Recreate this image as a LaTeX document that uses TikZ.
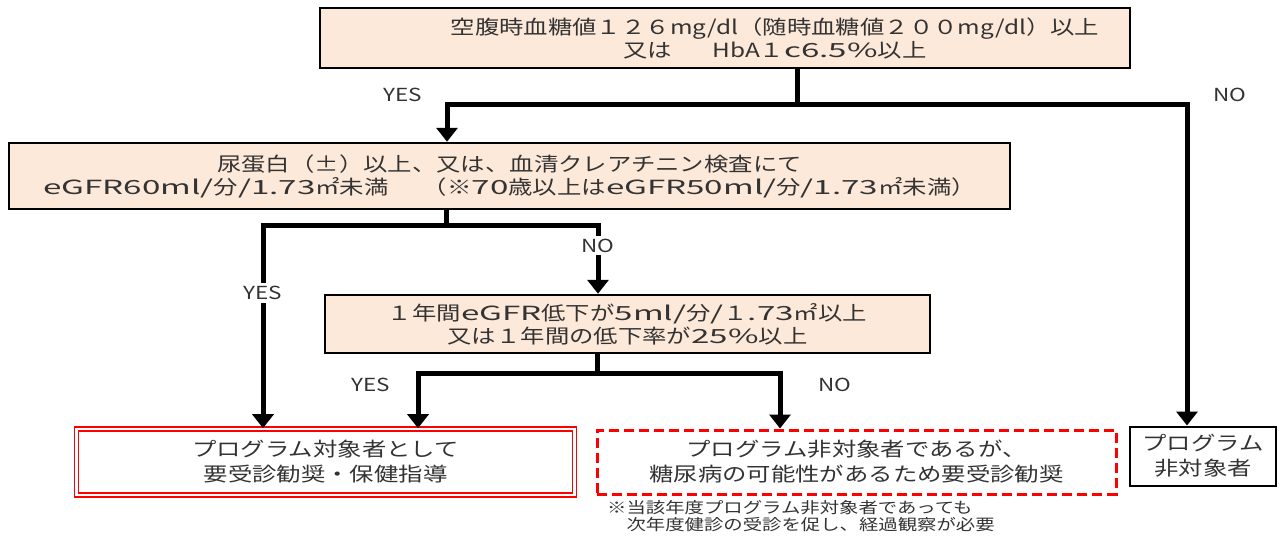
\documentclass[tikz,border=0pt]{standalone}
\usepackage{fontspec}
\setmainfont[FakeStretch=1.25]{Noto Sans CJK JP}
\newfontfamily\widelatin[FakeStretch=1.7]{Noto Sans CJK JP}
\newcommand{\ltn}[1]{{\widelatin #1}}
\usetikzlibrary{arrows.meta, positioning}
\definecolor{peach}{RGB}{253,233,217}
\tikzstyle{block} = [draw, line width=2.5pt, fill=peach, rectangle, align=center, inner sep=0pt, text=black!80, font=\fontsize{19.5}{23}\selectfont]
\tikzstyle{result} = [draw, rectangle, align=center, inner sep=0pt, text=black!80, font=\fontsize{19.5}{25}\selectfont]
\tikzstyle{flow} = [line width=5pt]
\tikzstyle{lbl} = [fill=white, inner sep=3pt, text=black!80, font=\fontsize{18}{20}\selectfont]

\begin{document}
\begin{tikzpicture}[x=1pt, y=-1pt, >={Triangle[width=21pt,length=14pt]}]
    \useasboundingbox (0,0) rectangle (1282,536);
    \node[block, minimum width=810pt, minimum height=60pt] (sugar) at (725,38) {};
    \node[align=center, inner sep=0pt, text=black!80, font=\fontsize{19.5}{23}\selectfont] (sugartext) at (775,38) {空腹時血糖値１２６mg/dl（随時血糖値２００mg/dl）以上\\又は\hspace*{40pt}HbA１\ltn{c6.5\%}以上};
    \node[block, minimum width=1001pt, minimum height=66pt] (protein) at (509.5,176) {尿蛋白（±）以上、又は、血清クレアチニン検査にて\\\ltn{eGFR60ml/}分\ltn{/1.73}㎡未満　\hspace*{10pt}（※\ltn{70}歳以上は\ltn{eGFR50ml/}分\ltn{/1.73}㎡未満）};
    \node[block, minimum width=605pt, minimum height=58pt] (decline) at (627.5,324) {１年間\ltn{eGFR}低下が\ltn{5ml/}分\ltn{/}１\ltn{.73}㎡以上\\又は１年間の低下率が\ltn{25\%}以上};
    \node[result, draw=red, double=white, double distance=2.5pt, line width=1.6pt, minimum width=498pt, minimum height=66pt] (target) at (325.5,462) {プログラム対象者として\\要受診勧奨・保健指導};
    \node[result, draw=red, dashed, dash pattern=on 10pt off 5pt, line width=3pt, minimum width=519pt, minimum height=64pt] (possible) at (856.5,462) {プログラム非対象者であるが、\\糖尿病の可能性があるため要受診勧奨};
    \node[result, line width=2pt, minimum width=146pt, minimum height=59pt] (nontarget) at (1203,456) {プログラム\\非対象者};
    \node[anchor=north west, align=left, inner sep=0pt, text=black!80, font=\fontsize{15.5}{17}\selectfont] (remark) at (607,500) {※当該年度プログラム非対象者であっても\\　次年度健診の受診を促し、経過観察が必要};
    \node[lbl] (yes1) at (403,95) {YES};
    \node[lbl] (no1) at (1230,95) {NO};
    \node[lbl] (yes3) at (371,385) {YES};
    \node[lbl] (no3) at (835,385) {NO};
    \coordinate (j1) at (797,104);
    \coordinate (j2) at (446,225);
    \coordinate (j3) at (597,373);
    \draw[flow] (sugar.south -| j1) -- (j1);
    \draw[flow,->] (j1) -| ([xshift=-62.5pt]protein.north);
    \draw[flow,->] (j1) -| ([xshift=-16pt]nontarget.north);
    \draw[flow] (protein.south -| j2) -- (j2);
    \draw[flow,->] (j2) -| node[lbl, pos=0.667] {YES} ([xshift=-62.5pt]target.north);
    \draw[flow,->] (j2) -| node[lbl, pos=0.65] {NO} ([xshift=-29.5pt]decline.north);
    \draw[flow] (decline.south -| j3) -- (j3);
    \draw[flow,->] (j3) -| ([xshift=92.5pt]target.north);
    \draw[flow,->] (j3) -| ([xshift=-76.5pt]possible.north);
\end{tikzpicture}
\end{document}
